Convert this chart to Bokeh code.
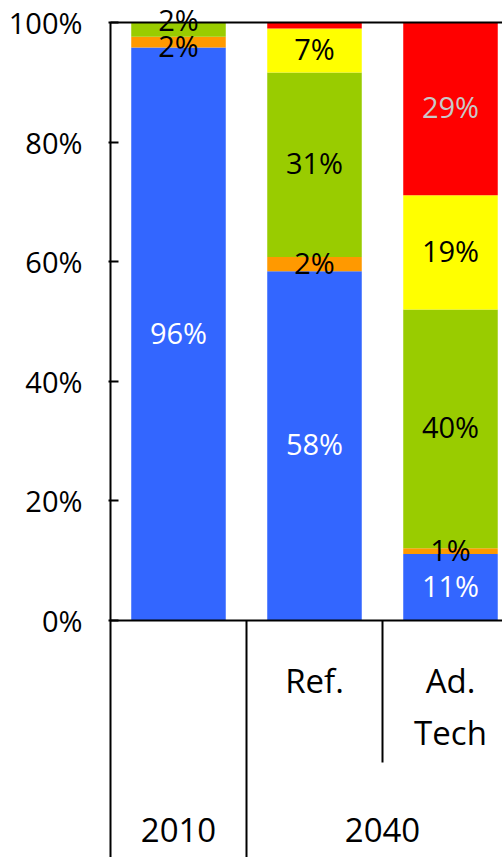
from bokeh.plotting import figure
from bokeh.models import ColumnDataSource, Range1d, FixedTicker, Span
from bokeh.core.properties import value
from bokeh.embed import file_html
from bokeh.resources import INLINE

# ---------------- data ----------------
categories = ["2010", "Ref.", "Ad. Tech"]
groups = ["2010", "2040"]
group_members = [[0], [1, 2]]
sub_label_lines = [[], ["Ref."], ["Ad.", "Tech"]]

series_names = ["blue", "orange", "green", "yellow", "red"]
blue = [95.8, 58.4, 11.1]
orange = [1.8, 2.4, 1.0]
green = [2.4, 30.85, 39.9]
yellow = [0.0, 7.35, 19.1]
red = [0.0, 1.0, 28.9]

blue_labels = ["96%", "58%", "11%"]
orange_labels = ["2%", "2%", "1%"]
green_labels = ["2%", "31%", "40%"]
yellow_labels = ["", "7%", "19%"]
red_labels = ["", "", "29%"]

y_ticks = [0, 20, 40, 60, 80, 100]
y_tick_labels = ["0%", "20%", "40%", "60%", "80%", "100%"]

# ---------------- layout / style ----------------
W, H = 502, 857
FRAME_LEFT = 108
AXIS_PX = 110
PX_TOP = 22
PX_ZERO = 620
unit = (PX_ZERO - PX_TOP) / 100.0
y_start = -(H - PX_ZERO) / unit
y_end = 100 + PX_TOP / unit
cell = 136.0
x_start = -(AXIS_PX - FRAME_LEFT) / cell
x_end = (W - AXIS_PX) / cell
bar_w = 0.695
FONT = "Open Sans"
FS = "29px"
FS_CAT = "33px"

colors = ["#3366FF", "#FF9900", "#99CC00", "#FFFF00", "#FF0000"]
label_colors = ["white", "black", "black", "black", "#C8C8C8"]

def px_to_y(py):
    return (PX_ZERO - py) / unit

values = [blue, orange, green, yellow, red]
labels = [blue_labels, orange_labels, green_labels, yellow_labels, red_labels]

xs = [i + 0.5 for i in range(len(categories))]
data = {"x": xs}
for n, v in zip(series_names, values):
    data[n] = v
src = ColumnDataSource(data)

p = figure(width=W, height=H, x_range=Range1d(x_start, x_end), y_range=Range1d(y_start, y_end),
           output_backend="svg", toolbar_location=None,
           min_border_left=FRAME_LEFT, min_border_right=0, min_border_top=0,
           min_border_bottom=0, x_axis_location=None, y_axis_location="left")
p.outline_line_color = None
p.xgrid.visible = False
p.ygrid.visible = False
p.background_fill_color = "white"

p.vbar_stack(series_names, x="x", width=bar_w, color=colors, line_color=None, source=src)

ax = p.yaxis[0]
ax.ticker = FixedTicker(ticks=y_ticks)
ax.major_label_overrides = {t: l for t, l in zip(y_ticks, y_tick_labels)}
ax.axis_line_color = None
ax.major_tick_in = 10
ax.major_tick_out = 0
ax.major_tick_line_width = 2
ax.minor_tick_in = 0
ax.minor_tick_out = 0
ax.major_label_text_font = FONT
ax.major_label_text_font_size = FS
ax.major_label_text_color = "black"
ax.major_label_standoff = 26

# frame lines: top (100%), baseline (0%), vertical value axis
p.segment(x0=[0, 0], y0=[100, 0], x1=[x_end, x_end], y1=[100, 0],
          line_color="black", line_width=2)
p.segment(x0=[0], y0=[100], x1=[0], y1=[y_start], line_color="black", line_width=2)

# separators under the axis
grp_bounds = [min(m) for m in group_members[1:]]
sub_bounds = [i for m in group_members for i in m[1:]]
p.segment(x0=grp_bounds, y0=[0] * len(grp_bounds), x1=grp_bounds, y1=[y_start] * len(grp_bounds),
          line_color="black", line_width=2)
p.segment(x0=sub_bounds, y0=[0] * len(sub_bounds), x1=sub_bounds,
          y1=[px_to_y(762)] * len(sub_bounds), line_color="black", line_width=2)

# category labels (vertical centres in pixels)
line_mid_px = [680, 732]
tx, ty, tt = [], [], []
for i, lines in enumerate(sub_label_lines):
    for j, t in enumerate(lines):
        tx.append(xs[i]); ty.append(px_to_y(line_mid_px[j])); tt.append(t)
for g, m in zip(groups, group_members):
    tx.append((min(m) + max(m) + 1) / 2.0); ty.append(px_to_y(829)); tt.append(g)
p.text(x=tx, y=ty, text=tt, text_align="center", text_baseline="middle",
       text_font=value(FONT), text_font_size=FS_CAT, text_color="black")

# bar value labels
nudge = {(0, 1): 3, (0, 2): -10}
cum = [0.0] * len(categories)
for s, (vals, labs) in enumerate(zip(values, labels)):
    lx, ly, lt, off = [], [], [], []
    for i, (v, l) in enumerate(zip(vals, labs)):
        if l:
            lx.append(xs[i]); ly.append(cum[i] + v / 2.0); lt.append(l)
            off.append(nudge.get((i, s), -2))
        cum[i] += v
    if lt:
        ls = ColumnDataSource(dict(x=lx, y=ly, t=lt, o=off))
        p.text(x="x", y="y", text="t", y_offset="o", source=ls, text_align="center",
               text_baseline="middle", text_font=value(FONT), text_font_size=FS,
               text_color=label_colors[s])

open("out.html", "w").write(file_html(p, INLINE))
